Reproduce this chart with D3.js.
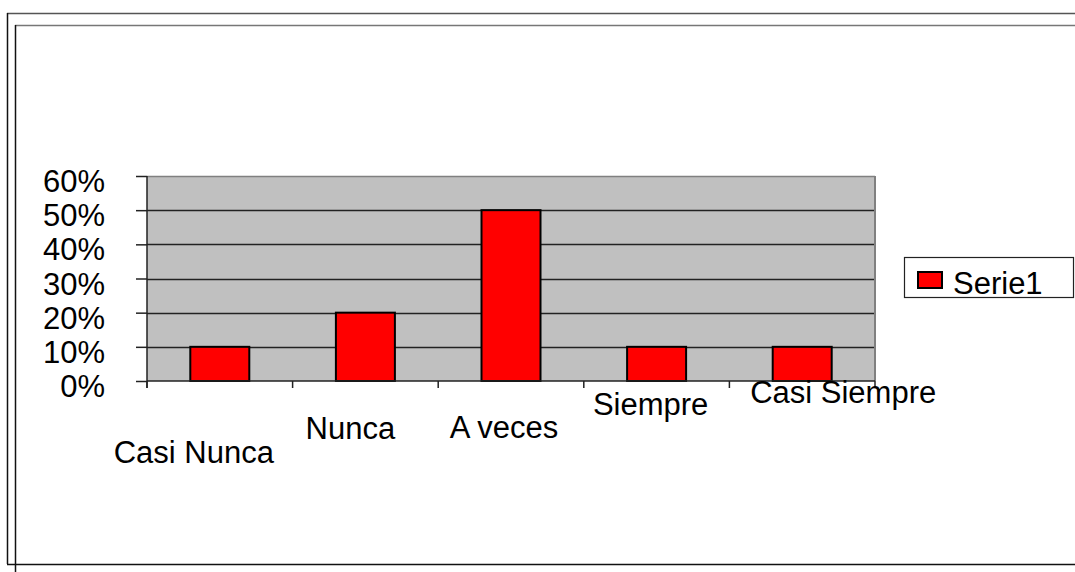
<!DOCTYPE html>
<html lang="es">
<head>
<meta charset="UTF-8">
<title>Serie1</title>
<script src="https://d3js.org/d3.v7.min.js"></script>
<style>
    html, body { margin: 0; padding: 0; background: #fff; }
    svg { display: block; }
    text { font-family: "Liberation Sans", Arial, sans-serif; fill: #000; }
</style>
</head>
<body>
<svg id="chart" width="1075" height="572"></svg>
<script>
    // data
    var categories = ["Casi Nunca", "Nunca", "A veces", "Siempre", "Casi Siempre"];
    var serie1 = [0.10, 0.20, 0.50, 0.10, 0.10];
    var yTicks = [0, 0.1, 0.2, 0.3, 0.4, 0.5, 0.6];
    var seriesName = "Serie1";

    // label placement (staggered like the original)
    var labelDx = [-26, -15, -7, -6, 41];
    var labelY = [463, 439, 438, 415, 403];

    var svg = d3.select("#chart");
    var plot = {left: 147, right: 875, top: 176, bottom: 381};

    // outer frames
    svg.append("line").attr("x1", 7).attr("y1", 13.5).attr("x2", 1075).attr("y2", 13.5)
        .attr("stroke", "#555").attr("stroke-width", 1.5);
    svg.append("line").attr("x1", 7.5).attr("y1", 13).attr("x2", 7.5).attr("y2", 564)
        .attr("stroke", "#111").attr("stroke-width", 1.5);
    svg.append("line").attr("x1", 7).attr("y1", 564.5).attr("x2", 1075).attr("y2", 564.5)
        .attr("stroke", "#111").attr("stroke-width", 1.5);
    svg.append("line").attr("x1", 15).attr("y1", 25.5).attr("x2", 1075).attr("y2", 25.5)
        .attr("stroke", "#777").attr("stroke-width", 1.5);
    svg.append("line").attr("x1", 15.5).attr("y1", 25).attr("x2", 15.5).attr("y2", 572)
        .attr("stroke", "#111").attr("stroke-width", 1.5);

    var x = d3.scaleBand().domain(categories).range([plot.left, plot.right]).paddingInner(0).paddingOuter(0);
    var y = d3.scaleLinear().domain([0, 0.6]).range([plot.bottom, plot.top]);

    // plot background
    svg.append("rect")
        .attr("x", plot.left).attr("y", plot.top)
        .attr("width", plot.right - plot.left).attr("height", plot.bottom - plot.top)
        .attr("fill", "#c0c0c0");

    // gridlines
    svg.append("g").selectAll("line").data(yTicks.slice(1)).enter().append("line")
        .attr("x1", plot.left).attr("x2", plot.right)
        .attr("y1", function(d) { return Math.round(y(d)) + 0.5; })
        .attr("y2", function(d) { return Math.round(y(d)) + 0.5; })
        .attr("stroke", function(d) { return d === 0.6 ? "#808080" : "#222"; })
        .attr("stroke-width", 1.5);

    // right border
    svg.append("line").attr("x1", plot.right).attr("x2", plot.right)
        .attr("y1", plot.top).attr("y2", plot.bottom)
        .attr("stroke", "#808080").attr("stroke-width", 2);

    // bars
    var barW = 59;
    svg.append("g").selectAll("rect").data(serie1).enter().append("rect")
        .attr("x", function(d, i) { return x(categories[i]) + x.bandwidth() / 2 - barW / 2; })
        .attr("y", function(d) { return y(d); })
        .attr("width", barW)
        .attr("height", function(d) { return y(0) - y(d); })
        .attr("fill", "#ff0000")
        .attr("stroke", "#000").attr("stroke-width", 2);

    // y axis
    var yAxis = svg.append("g")
        .attr("transform", "translate(" + plot.left + ",0)")
        .call(d3.axisLeft(y).tickValues(yTicks).tickSize(11).tickSizeOuter(0)
            .tickFormat(d3.format(".0%")));
    yAxis.select(".domain").remove();
    yAxis.selectAll(".tick line").attr("stroke", "#222").attr("stroke-width", 1.5);
    yAxis.selectAll(".tick text")
        .attr("x", -42).attr("dy", "0.5em")
        .style("font-size", "31px").style("font-family", "'Liberation Sans', Arial, sans-serif")
        .attr("fill", "#000");
    svg.append("line").attr("x1", plot.left).attr("x2", plot.left)
        .attr("y1", plot.top).attr("y2", plot.bottom + 7)
        .attr("stroke", "#222").attr("stroke-width", 1.5);

    // x axis
    svg.append("line").attr("x1", plot.left).attr("x2", plot.right)
        .attr("y1", plot.bottom).attr("y2", plot.bottom)
        .attr("stroke", "#222").attr("stroke-width", 1.5);
    var tickPos = categories.map(function(c) { return x(c); }).concat([plot.right]);
    svg.append("g").selectAll("line").data(tickPos).enter().append("line")
        .attr("x1", function(d) { return d; }).attr("x2", function(d) { return d; })
        .attr("y1", plot.bottom).attr("y2", plot.bottom + 7)
        .attr("stroke", "#222").attr("stroke-width", 1.5);

    svg.append("g").selectAll("text").data(categories).enter().append("text")
        .attr("x", function(d, i) { return x(d) + x.bandwidth() / 2 + labelDx[i]; })
        .attr("y", function(d, i) { return labelY[i]; })
        .attr("text-anchor", "middle")
        .style("font-size", "31px")
        .text(function(d) { return d; });

    // legend
    var lg = svg.append("g");
    lg.append("rect").attr("x", 904.5).attr("y", 257.5).attr("width", 169).attr("height", 40)
        .attr("fill", "#fff").attr("stroke", "#222").attr("stroke-width", 1.2);
    lg.append("rect").attr("x", 918).attr("y", 272).attr("width", 24).attr("height", 16)
        .attr("fill", "#ff0000").attr("stroke", "#000").attr("stroke-width", 2);
    lg.append("text").attr("x", 953).attr("y", 294)
        .style("font-size", "31px").text(seriesName);
</script>
</body>
</html>
